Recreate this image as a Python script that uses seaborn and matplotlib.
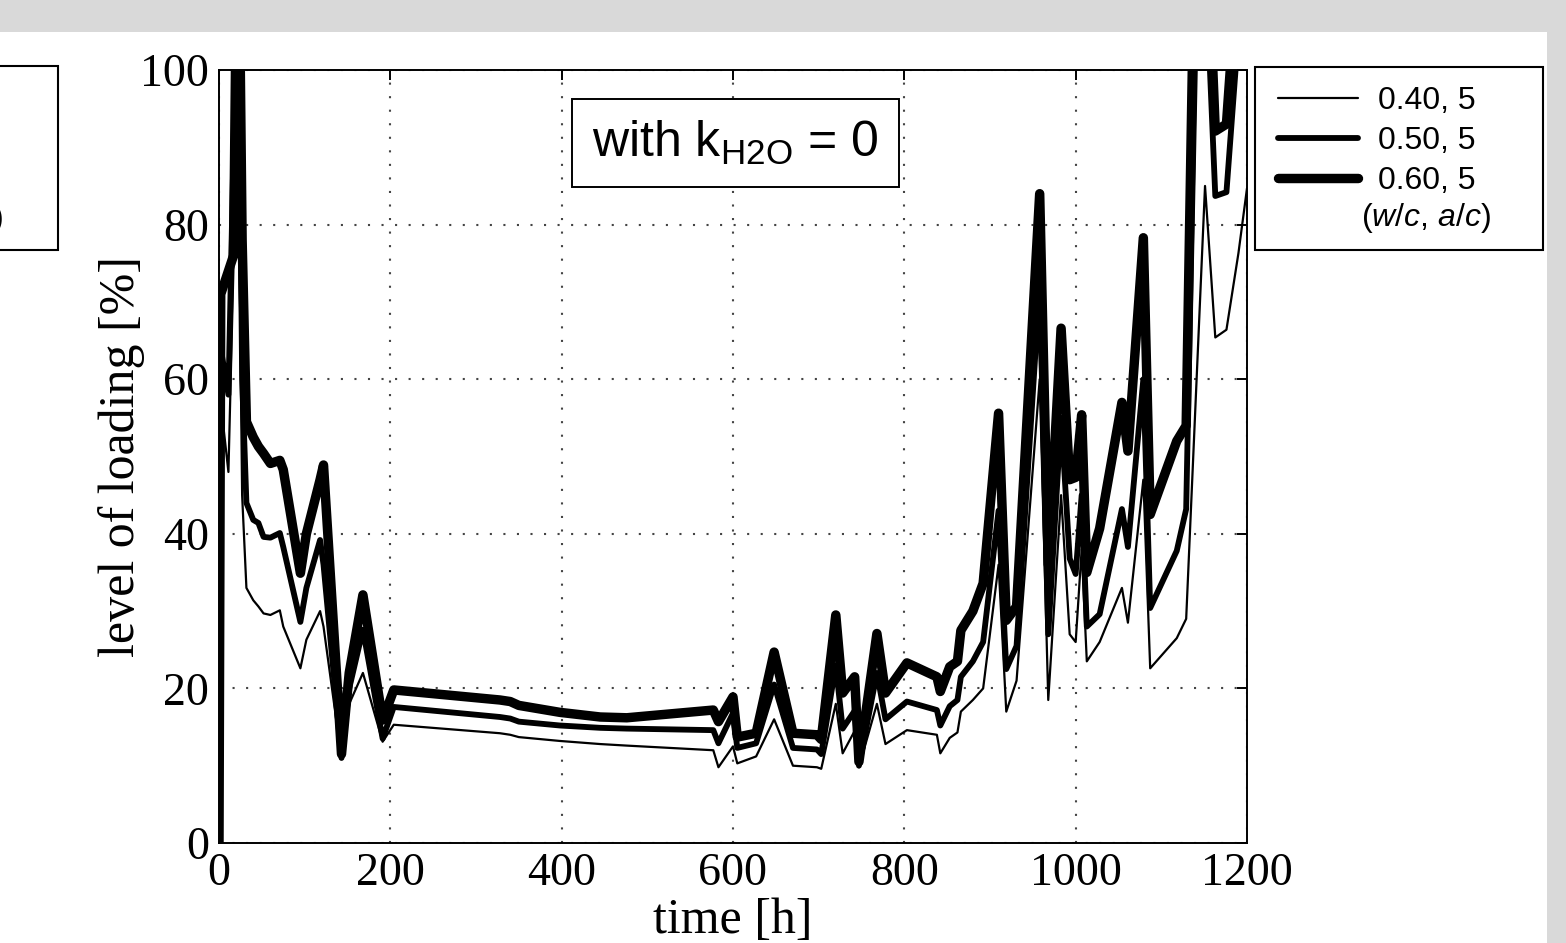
import matplotlib
matplotlib.use("Agg")
import matplotlib.pyplot as plt
import seaborn as sns
import pandas as pd
from matplotlib.patches import Rectangle
from matplotlib.lines import Line2D

# ---------------- data ----------------
time_h = [0, 2, 11, 17, 22, 27, 32, 40, 46, 52, 60, 71, 75, 95, 102, 118, 122,
          143, 152, 168, 191, 204, 328, 340, 350, 398, 445, 476, 577, 583, 600,
          605, 627, 648, 670, 698, 703, 720, 728, 742, 747, 768, 778, 803, 838,
          842, 853, 862, 866, 880, 892, 910, 919, 931, 958, 968, 983, 993, 1000,
          1007, 1013, 1028, 1054, 1061, 1079, 1087, 1118, 1129, 1140, 1151, 1163,
          1176, 1190, 1200]

wc_040 = [0, 57, 48, 75, 95, 45, 33, 31.4, 30.6, 29.7, 29.5, 30.1, 28, 22.6, 26.3,
          30, 28, 11, 18, 22, 13.1, 15.3, 14.2, 14.0, 13.7, 13.2, 12.8, 12.6, 12.0,
          9.8, 12.5, 10.3, 11.2, 16, 10, 9.8, 9.6, 18, 11.6, 14.5, 9.8, 18, 12.8,
          14.6, 14.0, 11.6, 13.6, 14.3, 17, 18.5, 20, 36, 17, 21, 60, 18.5, 45, 27,
          26, 38, 23.5, 26, 33, 28.5, 47, 22.6, 26.5, 29, 57, 85, 65.4, 66.4, 76.3,
          84.7]

wc_050 = [0, 64, 58, 90, 120, 60, 44, 41.8, 41.4, 39.6, 39.5, 40.1, 38.3, 28.6, 33,
          39.2, 36, 11, 20, 27.6, 13.5, 17.6, 16.3, 16.1, 15.7, 15.2, 14.9, 14.8,
          14.6, 12.9, 16.8, 12.3, 12.9, 20.5, 12.3, 12.1, 11.5, 23, 14.8, 17.1, 10.0,
          22, 16, 18.3, 17.2, 15.2, 17.7, 18.5, 21.5, 23.5, 26, 43, 22.5, 25.5, 72,
          27, 55, 36.8, 34.8, 45, 28, 29.6, 43.2, 38.3, 60, 30.4, 37.8, 43.2, 105,
          115, 83.7, 84.2, 105, 115]

wc_060 = [0, 71, 74, 76, 130, 78, 54.5, 52.5, 51.3, 50.4, 49.1, 49.5, 48.3, 34.9, 40,
          47, 48.9, 11.5, 22, 32.1, 15.9, 19.8, 18.5, 18.3, 17.8, 16.9, 16.3, 16.2,
          17.2, 15.7, 18.9, 13.7, 14.2, 24.7, 14.2, 14.0, 13.4, 29.5, 19.4, 21.5,
          10.5, 27.1, 19.4, 23.3, 21.5, 19.6, 22.8, 23.5, 27.5, 30, 33.6, 55.6, 28.8,
          30.6, 84, 36, 66.6, 47, 47.3, 55.4, 35, 40.7, 57, 50.7, 78.3, 42.5, 52, 54,
          125, 125, 92.1, 93, 115, 125]

series_labels = ["0.40, 5", "0.50, 5", "0.60, 5"]
x_ticks = [0, 200, 400, 600, 800, 1000, 1200]
y_ticks = [0, 20, 40, 60, 80, 100]

df = pd.DataFrame({
    "time": time_h * 3,
    "level": wc_040 + wc_050 + wc_060,
    "series": [series_labels[0]] * len(time_h) + [series_labels[1]] * len(time_h)
              + [series_labels[2]] * len(time_h),
})

# ---------------- style ----------------
sns.set_style("white")
plt.rcParams.update({
    "font.family": ["Liberation Serif", "DejaVu Serif"],
    "mathtext.fontset": "custom",
    "mathtext.rm": "Liberation Sans",
    "mathtext.it": "Liberation Sans:italic",
    "mathtext.bf": "Liberation Sans:bold",
    "text.color": "black",
    "axes.labelcolor": "black",
    "xtick.color": "black",
    "ytick.color": "black",
})

W, H = 1566, 943
fig = plt.figure(figsize=(W / 100, H / 100), dpi=100, facecolor="#d9d9d9")
fig.patches.append(Rectangle((0, 0), 1547 / W, (H - 32) / H, transform=fig.transFigure,
                             facecolor="white", edgecolor="none", zorder=-10))

ax = fig.add_axes([219 / W, 1 - 843 / H, (1247 - 219) / W, (843 - 70) / H])
ax.set_facecolor("white")

widths = [1.6, 4.2, 6.8]
for lab, lw in zip(series_labels, widths):
    sns.lineplot(data=df[df["series"] == lab], x="time", y="level", color="black",
                 linewidth=lw, ax=ax, legend=False, estimator=None, sort=False,
                 solid_joinstyle="round", solid_capstyle="round")

ax.set_xlim(0, 1200)
ax.set_ylim(0, 100)
ax.set_xticks(x_ticks)
ax.set_yticks(y_ticks)
ax.grid(True, linestyle=(0, (1, 5.5)), color="#444444", linewidth=1.5)
ax.set_axisbelow(True)
ax.tick_params(direction="in", length=7, width=1.4, top=True, right=True,
               labelsize=33, pad=7, colors="black", labelcolor="black")
for s in ax.spines.values():
    s.set_visible(True)
    s.set_linewidth(1.4)
    s.set_color("black")
ax.set_xlabel("time [h]", fontsize=36, labelpad=2, color="black")
ax.set_ylabel("level of loading [%]", fontsize=36, labelpad=-3, color="black")

ax.text(603, 90.6, r"with k$_{\mathrm{H2O}}$ = 0", family="Liberation Sans", fontsize=36,
        ha="center", va="center", zorder=5, color="black",
        bbox=dict(boxstyle="square,pad=0.4", facecolor="white", edgecolor="black",
                  linewidth=1.4))

# legend (box drawn separately)
fig.patches.append(Rectangle((1255 / W, 1 - 250 / H), 288 / W, 183 / H,
                             transform=fig.transFigure, fill=False,
                             edgecolor="black", linewidth=1.5, zorder=3))
handles = [Line2D([], [], color="black", linewidth=lw) for lw in widths]
leg = fig.legend(handles, series_labels, loc="upper left",
                 bbox_to_anchor=(1278 / W, 1 - 86 / H), bbox_transform=fig.transFigure,
                 frameon=False, prop={"family": "Liberation Sans", "size": 23},
                 handlelength=2.5, handletextpad=0.62, labelspacing=0.31,
                 borderpad=0, borderaxespad=0)
for t in leg.get_texts():
    t.set_color("black")
fig.text(1361 / W, 1 - 218 / H, r"($\mathit{w/c}$, $\mathit{a/c}$)",
         family="Liberation Sans", fontsize=23, ha="left", va="center", color="black")

# partial box of the neighbouring panel at the left edge
fig.patches.append(Rectangle((-10 / W, 1 - 250 / H), 68 / W, 184 / H,
                             transform=fig.transFigure, fill=False,
                             edgecolor="black", linewidth=1.5, zorder=3))
fig.text(4 / W, 1 - 219 / H, ")", family="Liberation Sans", fontsize=23,
         ha="right", va="center", color="black")

fig.savefig("out.png", dpi=100, facecolor=fig.get_facecolor())
